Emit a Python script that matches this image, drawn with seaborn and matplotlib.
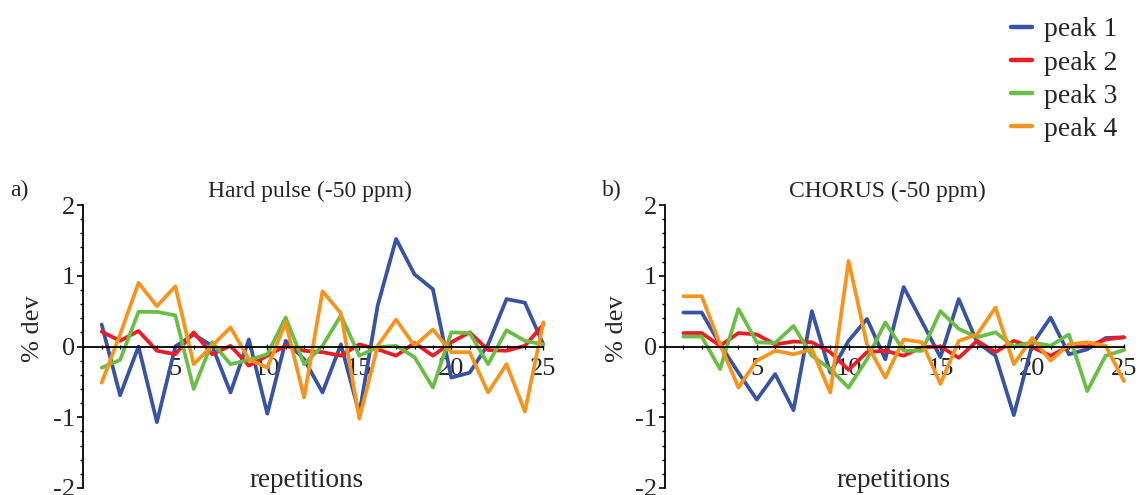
import numpy as np
import pandas as pd
import matplotlib
matplotlib.use("Agg")
import matplotlib.pyplot as plt
import seaborn as sns
from matplotlib.ticker import MultipleLocator, FixedLocator

repetitions = list(range(1, 26))
peaks = ["peak 1", "peak 2", "peak 3", "peak 4"]
colors = ["#3953a4", "#ed1c24", "#6abd45", "#f7941d"]

# a) Hard pulse (-50 ppm)
hard_p1 = [0.31, -0.69, 0.0, -1.07, 0.0, 0.17, 0.01, -0.65, 0.10, -0.95, 0.08, -0.18, -0.65,
           0.03, -0.95, 0.58, 1.52, 1.02, 0.81, -0.44, -0.37, 0.03, 0.67, 0.62, 0.03]
hard_p2 = [0.21, 0.08, 0.22, -0.06, -0.11, 0.20, -0.11, 0.01, -0.27, -0.13, 0.01, -0.06, -0.08,
           -0.13, 0.03, -0.04, -0.13, 0.05, -0.13, 0.06, 0.20, -0.05, -0.06, 0.01, 0.31]
hard_p3 = [-0.30, -0.19, 0.49, 0.49, 0.44, -0.60, 0.06, -0.25, -0.19, -0.11, 0.41, -0.25, 0.01,
           0.44, -0.13, -0.01, 0.01, -0.15, -0.58, 0.20, 0.19, -0.25, 0.23, 0.08, 0.03]
hard_p4 = [-0.51, 0.17, 0.90, 0.57, 0.85, -0.25, 0.01, 0.27, -0.18, -0.30, 0.34, -0.72, 0.78,
           0.47, -1.02, 0.01, 0.38, 0.01, 0.24, -0.08, -0.08, -0.65, -0.25, -0.92, 0.34]

# b) CHORUS (-50 ppm)
chorus_p1 = [0.48, 0.48, 0.03, -0.37, -0.75, -0.39, -0.90, 0.50, -0.37, 0.08, 0.39, -0.18, 0.84,
             0.35, -0.15, 0.67, 0.06, -0.13, -0.97, 0.03, 0.41, -0.11, -0.04, 0.12, 0.13]
chorus_p2 = [0.19, 0.19, 0.01, 0.19, 0.17, 0.03, 0.07, 0.06, -0.08, -0.33, -0.08, -0.06, -0.13,
             -0.01, 0.0, -0.16, 0.08, -0.08, 0.08, -0.01, -0.13, 0.0, 0.0, 0.10, 0.13]
chorus_p3 = [0.14, 0.14, -0.32, 0.53, 0.06, 0.05, 0.29, -0.13, -0.32, -0.58, -0.18, 0.34, -0.06,
             -0.06, 0.50, 0.25, 0.13, 0.20, 0.0, 0.06, 0.01, 0.17, -0.63, -0.13, -0.05]
chorus_p4 = [0.71, 0.71, 0.03, -0.58, -0.20, -0.06, -0.11, -0.04, -0.65, 1.21, 0.03, -0.44, 0.10,
             0.06, -0.53, 0.08, 0.17, 0.55, -0.25, 0.12, -0.20, 0.03, 0.06, 0.01, -0.49]

y_ticks = [-2, -1, 0, 1, 2]
x_ticks = [5, 10, 15, 20, 25]


def to_long(series):
    rows = []
    for name, vals in zip(peaks, series):
        for r, v in zip(repetitions, vals):
            rows.append({"repetitions": r, "dev": v, "peak": name})
    return pd.DataFrame(rows)


df_hard = to_long([hard_p1, hard_p2, hard_p3, hard_p4])
df_chorus = to_long([chorus_p1, chorus_p2, chorus_p3, chorus_p4])

sns.set_style("white")
plt.rcParams["font.family"] = ["Liberation Serif", "DejaVu Serif"]
plt.rcParams["axes.unicode_minus"] = False

W, H = 1145, 495
fig = plt.figure(figsize=(W / 100, H / 100), dpi=100)

ax_a = fig.add_axes([83.3 / W, 1 - 488 / H, 460 / W, 283 / H])
ax_b = fig.add_axes([665 / W, 1 - 488 / H, 459 / W, 283 / H])

palette = dict(zip(peaks, colors))

for ax, df in [(ax_a, df_hard), (ax_b, df_chorus)]:
    sns.lineplot(data=df, x="repetitions", y="dev", hue="peak", palette=palette,
                 linewidth=2.7, ax=ax, legend=False, sort=False)
    for ln in ax.lines:
        ln.set_clip_on(False)
    ax.set_xlim(0, 25)
    ax.set_ylim(-2, 2)
    ax.set_xlabel("")
    ax.set_ylabel("")
    ax.spines["top"].set_visible(False)
    ax.spines["right"].set_visible(False)
    ax.spines["bottom"].set_position(("data", 0))
    ax.spines["bottom"].set_linewidth(1.3)
    ax.spines["left"].set_linewidth(1.3)
    ax.spines["bottom"].set_color("black")
    ax.spines["left"].set_color("black")
    ax.yaxis.set_major_locator(FixedLocator(y_ticks))
    ax.yaxis.set_minor_locator(MultipleLocator(0.2))
    ax.xaxis.set_major_locator(FixedLocator(x_ticks))
    ax.xaxis.set_minor_locator(MultipleLocator(1))
    ax.set_yticklabels([str(t) for t in y_ticks])
    ax.set_xticklabels([str(t) for t in x_ticks])
    ax.tick_params(axis="y", which="major", direction="out", length=4.5, width=1.2,
                   labelsize=19, pad=1.5, color="black", left=True)
    ax.tick_params(axis="y", which="minor", direction="out", length=2.5, width=1.0,
                   color="black", left=True)
    ax.tick_params(axis="x", which="major", direction="inout", length=4, width=1.0,
                   labelsize=19, pad=6, color="black", bottom=True)
    ax.tick_params(axis="x", which="minor", direction="inout", length=3, width=0.9,
                   color="black", bottom=True)
    ax.set_facecolor("white")

# axis labels
ax_a.text(-0.109, 0.563, "% dev", transform=ax_a.transAxes, rotation=90,
          ha="center", va="center", fontsize=19)
ax_b.text(-0.105, 0.563, "% dev", transform=ax_b.transAxes, rotation=90,
          ha="center", va="center", fontsize=19)
ax_a.text(0.486, 0.005, "repetitions", transform=ax_a.transAxes,
          ha="center", va="baseline", fontsize=19.5)
ax_b.text(0.498, 0.005, "repetitions", transform=ax_b.transAxes,
          ha="center", va="baseline", fontsize=19.5)

# titles
ax_a.text(0.492, 1 + 8 / 283, "Hard pulse (-50 ppm)", transform=ax_a.transAxes,
          ha="center", va="baseline", fontsize=17)
ax_b.text(0.485, 1 + 8 / 283, "CHORUS (-50 ppm)", transform=ax_b.transAxes,
          ha="center", va="baseline", fontsize=17)
fig.text(10 / W, 1 - 196 / H, "a)", ha="left", va="baseline", fontsize=17)
fig.text(602 / W, 1 - 196 / H, "b)", ha="left", va="baseline", fontsize=17)

# legend
handles = [plt.Line2D([0], [0], color=c, linewidth=3.2) for c in colors]
fig.legend(handles, peaks, loc="upper left", bbox_to_anchor=(1011 / W, 1 - 17 / H),
           frameon=False, fontsize=20, handlelength=0.75, handletextpad=0.45,
           labelspacing=0.28, borderpad=0, borderaxespad=0)

fig.savefig("out.png", dpi=100, facecolor="white")
